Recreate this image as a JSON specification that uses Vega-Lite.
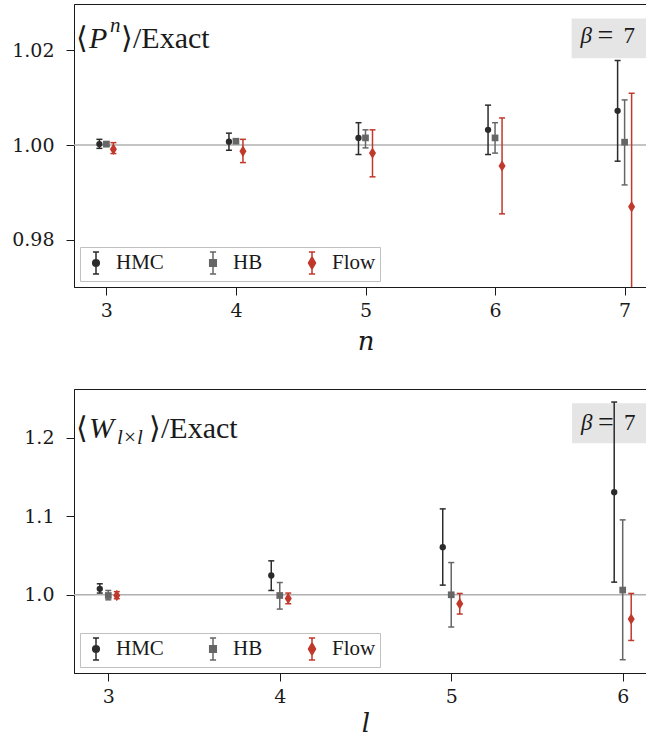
{
  "$schema": "https://vega.github.io/schema/vega-lite/v6.json",
  "padding": {"left": 11, "top": 3, "right": 0, "bottom": 0},
  "spacing": 33,
  "datasets": {
    "P": [
      {"n": 3, "series": "HMC", "v": 1.0002, "lo": 0.9993, "hi": 1.0012},
      {"n": 3, "series": "HB", "v": 1.0002, "lo": 0.9997, "hi": 1.0007},
      {"n": 3, "series": "Flow", "v": 0.9991, "lo": 0.9982, "hi": 1.0005},
      {"n": 4, "series": "HMC", "v": 1.0007, "lo": 0.9989, "hi": 1.0025},
      {"n": 4, "series": "HB", "v": 1.0008, "lo": 1.0004, "hi": 1.0013},
      {"n": 4, "series": "Flow", "v": 0.9987, "lo": 0.9963, "hi": 1.0012},
      {"n": 5, "series": "HMC", "v": 1.0015, "lo": 0.998, "hi": 1.0047},
      {"n": 5, "series": "HB", "v": 1.0015, "lo": 0.9994, "hi": 1.0032},
      {"n": 5, "series": "Flow", "v": 0.9983, "lo": 0.9933, "hi": 1.0032},
      {"n": 6, "series": "HMC", "v": 1.0032, "lo": 0.998, "hi": 1.0084},
      {"n": 6, "series": "HB", "v": 1.0015, "lo": 0.9983, "hi": 1.0047},
      {"n": 6, "series": "Flow", "v": 0.9956, "lo": 0.9855, "hi": 1.0057},
      {"n": 7, "series": "HMC", "v": 1.0072, "lo": 0.9966, "hi": 1.0178},
      {"n": 7, "series": "HB", "v": 1.0006, "lo": 0.9916, "hi": 1.0095},
      {"n": 7, "series": "Flow", "v": 0.987, "lo": 0.9631, "hi": 1.0109}
    ],
    "W": [
      {"n": 3, "series": "HMC", "v": 1.0076, "lo": 1.0022, "hi": 1.014},
      {"n": 3, "series": "HB", "v": 0.9991, "lo": 0.9936, "hi": 1.0055},
      {"n": 3, "series": "Flow", "v": 0.9991, "lo": 0.995, "hi": 1.004},
      {"n": 4, "series": "HMC", "v": 1.0245, "lo": 1.0055, "hi": 1.0432},
      {"n": 4, "series": "HB", "v": 0.9991, "lo": 0.9818, "hi": 1.0156},
      {"n": 4, "series": "Flow", "v": 0.9953, "lo": 0.9886, "hi": 1.0022},
      {"n": 5, "series": "HMC", "v": 1.0606, "lo": 1.0123, "hi": 1.1093},
      {"n": 5, "series": "HB", "v": 1.0, "lo": 0.959, "hi": 1.041},
      {"n": 5, "series": "Flow", "v": 0.9886, "lo": 0.9755, "hi": 1.0017},
      {"n": 6, "series": "HMC", "v": 1.1305, "lo": 1.0161, "hi": 1.2452},
      {"n": 6, "series": "HB", "v": 1.006, "lo": 0.9174, "hi": 1.0953},
      {"n": 6, "series": "Flow", "v": 0.9691, "lo": 0.9419, "hi": 1.0017}
    ]
  },
  "resolve": {
    "scale": {"x": "independent", "y": "independent", "fill": "independent", "stroke": "independent", "shape": "independent"},
    "legend": {"fill": "independent", "stroke": "independent", "shape": "independent"}
  },
  "vconcat": [
    {
      "width": 583,
      "height": 283,
      "layer": [
        {
          "data": {"values": [{"k": 1}]},
          "mark": {"type": "rect", "color": "#e5e5e5", "clip": true},
          "encoding": {
            "x": {"datum": 6.591, "type": "quantitative", "scale": {"domain": [2.75, 7.25], "nice": false, "zero": false}, "axis": {"values": [3, 4, 5, 6, 7], "format": "d", "title": "n"}}, "x2": {"datum": 7.25},
            "y": {"datum": 1.01825, "type": "quantitative", "scale": {"domain": [0.9701, 1.0297], "nice": false, "zero": false}, "axis": {"values": [0.98, 1.0, 1.02], "format": ".2f", "title": null}}, "y2": {"datum": 1.02667}
          }
        },
        {
          "data": {"values": [{"k": 1}]},
          "mark": {"type": "rule", "color": "#b0b0b0", "strokeWidth": 1.5},
          "encoding": {"y": {"datum": 1.0, "type": "quantitative"}}
        },
        {
          "data": {"values": [{"k": 1}]},
          "encoding": {"x": {"datum": 2.75, "type": "quantitative"}, "y": {"datum": 1.0297, "type": "quantitative"}},
          "layer": [
            {"mark": {"type": "text", "align": "left", "baseline": "alphabetic", "font": "serif", "fontSize": 30, "color": "#1a1a1a", "dx": 2, "dy": 44}, "encoding": {"text": {"value": "⟨"}}},
            {"mark": {"type": "text", "align": "left", "baseline": "alphabetic", "font": "serif", "fontStyle": "italic", "fontSize": 30, "color": "#1a1a1a", "dx": 15, "dy": 44}, "encoding": {"text": {"value": "P"}}},
            {"mark": {"type": "text", "align": "left", "baseline": "alphabetic", "font": "serif", "fontStyle": "italic", "fontSize": 21, "color": "#1a1a1a", "dx": 36, "dy": 28}, "encoding": {"text": {"value": "n"}}},
            {"mark": {"type": "text", "align": "left", "baseline": "alphabetic", "font": "serif", "fontSize": 30, "color": "#1a1a1a", "dx": 47, "dy": 44}, "encoding": {"text": {"value": "⟩/Exact"}}}
          ]
        },
        {
          "data": {"values": [{"k": 1}]},
          "encoding": {"x": {"datum": 6.591, "type": "quantitative"}, "y": {"datum": 1.02667, "type": "quantitative"}},
          "layer": [
            {"mark": {"type": "text", "align": "left", "baseline": "alphabetic", "font": "serif", "fontStyle": "italic", "fontSize": 23, "color": "#1a1a1a", "dx": 9, "dy": 25}, "encoding": {"text": {"value": "β"}}},
            {"mark": {"type": "text", "align": "left", "baseline": "alphabetic", "font": "serif", "fontSize": 28, "color": "#1a1a1a", "dx": 26, "dy": 26}, "encoding": {"text": {"value": "="}}},
            {"mark": {"type": "text", "align": "left", "baseline": "alphabetic", "font": "serif", "fontSize": 23, "color": "#1a1a1a", "dx": 52, "dy": 25}, "encoding": {"text": {"value": "7"}}}
          ]
        },
        {
          "data": {"name": "P"},
          "transform": [{"filter": "datum.series === 'HMC'"}],
          "encoding": {"x": {"field": "n", "type": "quantitative"}},
          "layer": [
            {"mark": {"type": "rule", "color": "#2b2b2b", "strokeWidth": 1.5, "xOffset": -7, "clip": true}, "encoding": {"y": {"field": "lo", "type": "quantitative"}, "y2": {"field": "hi"}}},
            {"mark": {"type": "tick", "orient": "horizontal", "color": "#2b2b2b", "size": 6, "thickness": 1.5, "xOffset": -7, "clip": true, "opacity": 1}, "encoding": {"y": {"field": "lo", "type": "quantitative"}}},
            {"mark": {"type": "tick", "orient": "horizontal", "color": "#2b2b2b", "size": 6, "thickness": 1.5, "xOffset": -7, "clip": true, "opacity": 1}, "encoding": {"y": {"field": "hi", "type": "quantitative"}}},
            {"mark": {"type": "point", "shape": "circle", "filled": true, "size": 40, "color": "#2b2b2b", "opacity": 1, "xOffset": -7}, "encoding": {"y": {"field": "v", "type": "quantitative"}}}
          ]
        },
        {
          "data": {"name": "P"},
          "transform": [{"filter": "datum.series === 'HB'"}],
          "encoding": {"x": {"field": "n", "type": "quantitative"}},
          "layer": [
            {"mark": {"type": "rule", "color": "#666666", "strokeWidth": 1.5, "clip": true}, "encoding": {"y": {"field": "lo", "type": "quantitative"}, "y2": {"field": "hi"}}},
            {"mark": {"type": "tick", "orient": "horizontal", "color": "#666666", "size": 6, "thickness": 1.5, "clip": true, "opacity": 1}, "encoding": {"y": {"field": "lo", "type": "quantitative"}}},
            {"mark": {"type": "tick", "orient": "horizontal", "color": "#666666", "size": 6, "thickness": 1.5, "clip": true, "opacity": 1}, "encoding": {"y": {"field": "hi", "type": "quantitative"}}},
            {"mark": {"type": "point", "shape": "square", "filled": true, "size": 45, "color": "#666666", "opacity": 1}, "encoding": {"y": {"field": "v", "type": "quantitative"}}}
          ]
        },
        {
          "data": {"name": "P"},
          "transform": [{"filter": "datum.series === 'Flow'"}],
          "encoding": {"x": {"field": "n", "type": "quantitative"}},
          "layer": [
            {"mark": {"type": "rule", "color": "#c0392b", "strokeWidth": 1.5, "xOffset": 7, "clip": true}, "encoding": {"y": {"field": "lo", "type": "quantitative"}, "y2": {"field": "hi"}}},
            {"mark": {"type": "tick", "orient": "horizontal", "color": "#c0392b", "size": 6, "thickness": 1.5, "xOffset": 7, "clip": true, "opacity": 1}, "encoding": {"y": {"field": "lo", "type": "quantitative"}}},
            {"mark": {"type": "tick", "orient": "horizontal", "color": "#c0392b", "size": 6, "thickness": 1.5, "xOffset": 7, "clip": true, "opacity": 1}, "encoding": {"y": {"field": "hi", "type": "quantitative"}}},
            {"mark": {"type": "point", "shape": "M0,-1L0.62,0L0,1L-0.62,0Z", "filled": true, "size": 130, "color": "#c0392b", "opacity": 1, "xOffset": 7}, "encoding": {"y": {"field": "v", "type": "quantitative"}}}
          ]
        },
        {
          "data": {"values": [{"series": "HMC"}]},
          "transform": [{"filter": "false"}],
          "mark": {"type": "point", "filled": true, "opacity": 1, "size": 484, "strokeWidth": 1.5},
          "encoding": {
            "fill": {"field": "series", "type": "nominal", "scale": {"domain": ["HMC", "HB", "Flow"], "range": ["#2b2b2b", "#666666", "#c0392b"]}, "legend": {"title": null}},
            "stroke": {"field": "series", "type": "nominal", "scale": {"domain": ["HMC", "HB", "Flow"], "range": ["#2b2b2b", "#666666", "#c0392b"]}, "legend": {"title": null}},
            "shape": {"field": "series", "type": "nominal", "scale": {"domain": ["HMC", "HB", "Flow"], "range": [
              "M0,-1L0,1M-0.28,-1L0.28,-1M-0.28,1L0.28,1M0.3,0A0.3,0.3,0,1,1,-0.3,0A0.3,0.3,0,1,1,0.3,0Z",
              "M0,-1L0,1M-0.28,-1L0.28,-1M-0.28,1L0.28,1M-0.3,-0.3L0.3,-0.3L0.3,0.3L-0.3,0.3Z",
              "M0,-1L0,1M-0.28,-1L0.28,-1M-0.28,1L0.28,1M0,-0.55L0.32,0L0,0.55L-0.32,0Z"
            ]}, "legend": {"title": null}}
          }
        }
      ]
    },
    {
      "width": 583,
      "height": 284,
      "layer": [
        {
          "data": {"values": [{"k": 1}]},
          "mark": {"type": "rect", "color": "#e5e5e5", "clip": true},
          "encoding": {
            "x": {"datum": 5.704, "type": "quantitative", "scale": {"domain": [2.8, 6.2], "nice": false, "zero": false}, "axis": {"values": [3, 4, 5, 6], "format": "d", "title": "l", "titlePadding": 4}}, "x2": {"datum": 6.2},
            "y": {"datum": 1.1928, "type": "quantitative", "scale": {"domain": [0.9005, 1.2618], "nice": false, "zero": false}, "axis": {"values": [1.0, 1.1, 1.2], "format": ".1f", "title": null}}, "y2": {"datum": 1.2436}
          }
        },
        {
          "data": {"values": [{"k": 1}]},
          "mark": {"type": "rule", "color": "#b0b0b0", "strokeWidth": 1.5},
          "encoding": {"y": {"datum": 1.0, "type": "quantitative"}}
        },
        {
          "data": {"values": [{"k": 1}]},
          "encoding": {"x": {"datum": 2.8, "type": "quantitative"}, "y": {"datum": 1.2618, "type": "quantitative"}},
          "layer": [
            {"mark": {"type": "text", "align": "left", "baseline": "alphabetic", "font": "serif", "fontSize": 30, "color": "#1a1a1a", "dx": 2, "dy": 49}, "encoding": {"text": {"value": "⟨"}}},
            {"mark": {"type": "text", "align": "left", "baseline": "alphabetic", "font": "serif", "fontStyle": "italic", "fontSize": 30, "color": "#1a1a1a", "dx": 15, "dy": 49}, "encoding": {"text": {"value": "W"}}},
            {"mark": {"type": "text", "align": "left", "baseline": "alphabetic", "font": "serif", "fontStyle": "italic", "fontSize": 21, "color": "#1a1a1a", "dx": 43, "dy": 55}, "encoding": {"text": {"value": "l×l"}}},
            {"mark": {"type": "text", "align": "left", "baseline": "alphabetic", "font": "serif", "fontSize": 30, "color": "#1a1a1a", "dx": 75, "dy": 49}, "encoding": {"text": {"value": "⟩/Exact"}}}
          ]
        },
        {
          "data": {"values": [{"k": 1}]},
          "encoding": {"x": {"datum": 5.704, "type": "quantitative"}, "y": {"datum": 1.2436, "type": "quantitative"}},
          "layer": [
            {"mark": {"type": "text", "align": "left", "baseline": "alphabetic", "font": "serif", "fontStyle": "italic", "fontSize": 23, "color": "#1a1a1a", "dx": 9, "dy": 27}, "encoding": {"text": {"value": "β"}}},
            {"mark": {"type": "text", "align": "left", "baseline": "alphabetic", "font": "serif", "fontSize": 28, "color": "#1a1a1a", "dx": 26, "dy": 28}, "encoding": {"text": {"value": "="}}},
            {"mark": {"type": "text", "align": "left", "baseline": "alphabetic", "font": "serif", "fontSize": 23, "color": "#1a1a1a", "dx": 52, "dy": 27}, "encoding": {"text": {"value": "7"}}}
          ]
        },
        {
          "data": {"name": "W"},
          "transform": [{"filter": "datum.series === 'HMC'"}],
          "encoding": {"x": {"field": "n", "type": "quantitative"}},
          "layer": [
            {"mark": {"type": "rule", "color": "#2b2b2b", "strokeWidth": 1.5, "xOffset": -8.5, "clip": true}, "encoding": {"y": {"field": "lo", "type": "quantitative"}, "y2": {"field": "hi"}}},
            {"mark": {"type": "tick", "orient": "horizontal", "color": "#2b2b2b", "size": 6, "thickness": 1.5, "xOffset": -8.5, "clip": true, "opacity": 1}, "encoding": {"y": {"field": "lo", "type": "quantitative"}}},
            {"mark": {"type": "tick", "orient": "horizontal", "color": "#2b2b2b", "size": 6, "thickness": 1.5, "xOffset": -8.5, "clip": true, "opacity": 1}, "encoding": {"y": {"field": "hi", "type": "quantitative"}}},
            {"mark": {"type": "point", "shape": "circle", "filled": true, "size": 40, "color": "#2b2b2b", "opacity": 1, "xOffset": -8.5}, "encoding": {"y": {"field": "v", "type": "quantitative"}}}
          ]
        },
        {
          "data": {"name": "W"},
          "transform": [{"filter": "datum.series === 'HB'"}],
          "encoding": {"x": {"field": "n", "type": "quantitative"}},
          "layer": [
            {"mark": {"type": "rule", "color": "#666666", "strokeWidth": 1.5, "clip": true}, "encoding": {"y": {"field": "lo", "type": "quantitative"}, "y2": {"field": "hi"}}},
            {"mark": {"type": "tick", "orient": "horizontal", "color": "#666666", "size": 6, "thickness": 1.5, "clip": true, "opacity": 1}, "encoding": {"y": {"field": "lo", "type": "quantitative"}}},
            {"mark": {"type": "tick", "orient": "horizontal", "color": "#666666", "size": 6, "thickness": 1.5, "clip": true, "opacity": 1}, "encoding": {"y": {"field": "hi", "type": "quantitative"}}},
            {"mark": {"type": "point", "shape": "square", "filled": true, "size": 45, "color": "#666666", "opacity": 1}, "encoding": {"y": {"field": "v", "type": "quantitative"}}}
          ]
        },
        {
          "data": {"name": "W"},
          "transform": [{"filter": "datum.series === 'Flow'"}],
          "encoding": {"x": {"field": "n", "type": "quantitative"}},
          "layer": [
            {"mark": {"type": "rule", "color": "#c0392b", "strokeWidth": 1.5, "xOffset": 8.5, "clip": true}, "encoding": {"y": {"field": "lo", "type": "quantitative"}, "y2": {"field": "hi"}}},
            {"mark": {"type": "tick", "orient": "horizontal", "color": "#c0392b", "size": 6, "thickness": 1.5, "xOffset": 8.5, "clip": true, "opacity": 1}, "encoding": {"y": {"field": "lo", "type": "quantitative"}}},
            {"mark": {"type": "tick", "orient": "horizontal", "color": "#c0392b", "size": 6, "thickness": 1.5, "xOffset": 8.5, "clip": true, "opacity": 1}, "encoding": {"y": {"field": "hi", "type": "quantitative"}}},
            {"mark": {"type": "point", "shape": "M0,-1L0.62,0L0,1L-0.62,0Z", "filled": true, "size": 130, "color": "#c0392b", "opacity": 1, "xOffset": 8.5}, "encoding": {"y": {"field": "v", "type": "quantitative"}}}
          ]
        },
        {
          "data": {"values": [{"series": "HMC"}]},
          "transform": [{"filter": "false"}],
          "mark": {"type": "point", "filled": true, "opacity": 1, "size": 484, "strokeWidth": 1.5},
          "encoding": {
            "fill": {"field": "series", "type": "nominal", "scale": {"domain": ["HMC", "HB", "Flow"], "range": ["#2b2b2b", "#666666", "#c0392b"]}, "legend": {"title": null}},
            "stroke": {"field": "series", "type": "nominal", "scale": {"domain": ["HMC", "HB", "Flow"], "range": ["#2b2b2b", "#666666", "#c0392b"]}, "legend": {"title": null}},
            "shape": {"field": "series", "type": "nominal", "scale": {"domain": ["HMC", "HB", "Flow"], "range": [
              "M0,-1L0,1M-0.28,-1L0.28,-1M-0.28,1L0.28,1M0.3,0A0.3,0.3,0,1,1,-0.3,0A0.3,0.3,0,1,1,0.3,0Z",
              "M0,-1L0,1M-0.28,-1L0.28,-1M-0.28,1L0.28,1M-0.3,-0.3L0.3,-0.3L0.3,0.3L-0.3,0.3Z",
              "M0,-1L0,1M-0.28,-1L0.28,-1M-0.28,1L0.28,1M0,-0.55L0.32,0L0,0.55L-0.32,0Z"
            ]}, "legend": {"title": null}}
          }
        }
      ]
    }
  ],
  "config": {
    "view": {"stroke": "#1a1a1a", "strokeWidth": 1},
    "axis": {
      "grid": false, "domainColor": "#1a1a1a", "domainWidth": 1, "tickColor": "#1a1a1a", "tickSize": 8, "tickWidth": 1,
      "labelFont": "DejaVu Serif", "labelFontSize": 19, "labelColor": "#1a1a1a", "labelPadding": 12,
      "titleFont": "DejaVu Serif", "titleFontSize": 26, "titleFontStyle": "italic", "titleFontWeight": "normal", "titleColor": "#1a1a1a", "titlePadding": 8
    },
    "axisX": {"labelPadding": 6},
    "legend": {
      "orient": "bottom-left", "offset": 6, "direction": "horizontal", "padding": 4,
      "strokeColor": "#c0c0c0", "fillColor": "#ffffff",
      "labelFont": "serif", "labelFontSize": 21, "labelColor": "#1a1a1a", "labelOffset": 8,
      "columnPadding": 37, "symbolStrokeWidth": 1.5, "symbolSize": 484, "symbolOpacity": 1
    }
  }
}
